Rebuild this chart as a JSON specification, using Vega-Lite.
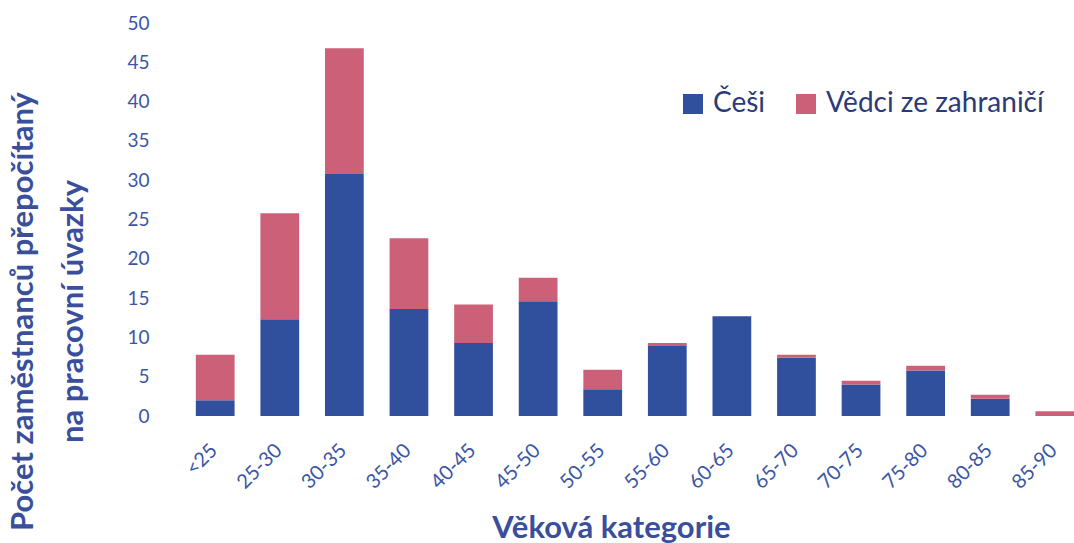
{
  "$schema": "https://vega.github.io/schema/vega-lite/v6.json",
  "autosize": {"type": "none"},
  "padding": {"left": 170, "top": 23, "right": 0, "bottom": 127},
  "width": 930,
  "height": 393,
  "background": "white",
  "config": {"view": {"stroke": null}, "font": "Lato"},
  "data": {"values": [
    {"kat": "<25", "skupina": "Češi", "hodnota": 2},
    {"kat": "<25", "skupina": "Vědci ze zahraničí", "hodnota": 5.8},
    {"kat": "25-30", "skupina": "Češi", "hodnota": 12.3},
    {"kat": "25-30", "skupina": "Vědci ze zahraničí", "hodnota": 13.5},
    {"kat": "30-35", "skupina": "Češi", "hodnota": 30.8},
    {"kat": "30-35", "skupina": "Vědci ze zahraničí", "hodnota": 16},
    {"kat": "35-40", "skupina": "Češi", "hodnota": 13.6},
    {"kat": "35-40", "skupina": "Vědci ze zahraničí", "hodnota": 9},
    {"kat": "40-45", "skupina": "Češi", "hodnota": 9.3},
    {"kat": "40-45", "skupina": "Vědci ze zahraničí", "hodnota": 4.9},
    {"kat": "45-50", "skupina": "Češi", "hodnota": 14.6},
    {"kat": "45-50", "skupina": "Vědci ze zahraničí", "hodnota": 3},
    {"kat": "50-55", "skupina": "Češi", "hodnota": 3.4},
    {"kat": "50-55", "skupina": "Vědci ze zahraničí", "hodnota": 2.5},
    {"kat": "55-60", "skupina": "Češi", "hodnota": 8.9},
    {"kat": "55-60", "skupina": "Vědci ze zahraničí", "hodnota": 0.4},
    {"kat": "60-65", "skupina": "Češi", "hodnota": 12.7},
    {"kat": "60-65", "skupina": "Vědci ze zahraničí", "hodnota": 0},
    {"kat": "65-70", "skupina": "Češi", "hodnota": 7.4},
    {"kat": "65-70", "skupina": "Vědci ze zahraničí", "hodnota": 0.4},
    {"kat": "70-75", "skupina": "Češi", "hodnota": 4},
    {"kat": "70-75", "skupina": "Vědci ze zahraničí", "hodnota": 0.5},
    {"kat": "75-80", "skupina": "Češi", "hodnota": 5.8},
    {"kat": "75-80", "skupina": "Vědci ze zahraničí", "hodnota": 0.6},
    {"kat": "80-85", "skupina": "Češi", "hodnota": 2.2},
    {"kat": "80-85", "skupina": "Vědci ze zahraničí", "hodnota": 0.5},
    {"kat": "85-90", "skupina": "Češi", "hodnota": 0},
    {"kat": "85-90", "skupina": "Vědci ze zahraničí", "hodnota": 0.6}
  ]},
  "mark": {"type": "bar"},
  "encoding": {
    "x": {
      "field": "kat", "type": "nominal", "sort": null,
      "scale": {"paddingInner": 0.4, "paddingOuter": 0.4},
      "axis": {
        "title": "Věková kategorie", "titleFontSize": 31, "titleFontWeight": "bold",
        "titleColor": "#3a4f9c", "titleX": 441, "titleY": 121, "titleBaseline": "alphabetic",
        "labelAngle": -45, "labelFontSize": 20, "labelColor": "#3b56a6",
        "labelPadding": 24, "labelOffset": -8, "domain": false, "ticks": false
      }
    },
    "y": {
      "field": "hodnota", "type": "quantitative", "aggregate": "sum",
      "scale": {"domain": [0, 50]},
      "axis": {
        "title": ["Počet zaměstnanců přepočítaný", "na pracovní úvazky"],
        "titleFontSize": 31, "titleFontWeight": "bold", "titleColor": "#3a4f9c",
        "titleLineHeight": 50, "titleY": 288, "titleX": -162, "titleAlign": "center",
        "titleBaseline": "top", "titleLimit": 700,
        "values": [0, 5, 10, 15, 20, 25, 30, 35, 40, 45, 50],
        "labelFontSize": 19, "labelColor": "#3b56a6", "labelPadding": 21,
        "grid": false, "domain": false, "ticks": false
      }
    },
    "color": {
      "field": "skupina", "type": "nominal",
      "sort": ["Češi", "Vědci ze zahraničí"],
      "scale": {"domain": ["Češi", "Vědci ze zahraničí"], "range": ["#30509e", "#cc6078"]},
      "legend": {
        "title": null, "orient": "none", "direction": "horizontal",
        "legendX": 509, "legendY": 67,
        "labelFontSize": 28, "labelColor": "#2b3a78", "labelLimit": 400,
        "symbolType": "square", "symbolSize": 400, "symbolStrokeWidth": 0,
        "columnPadding": 26, "labelOffset": 6
      }
    },
    "order": {"field": "skupina", "sort": "descending"}
  }
}
